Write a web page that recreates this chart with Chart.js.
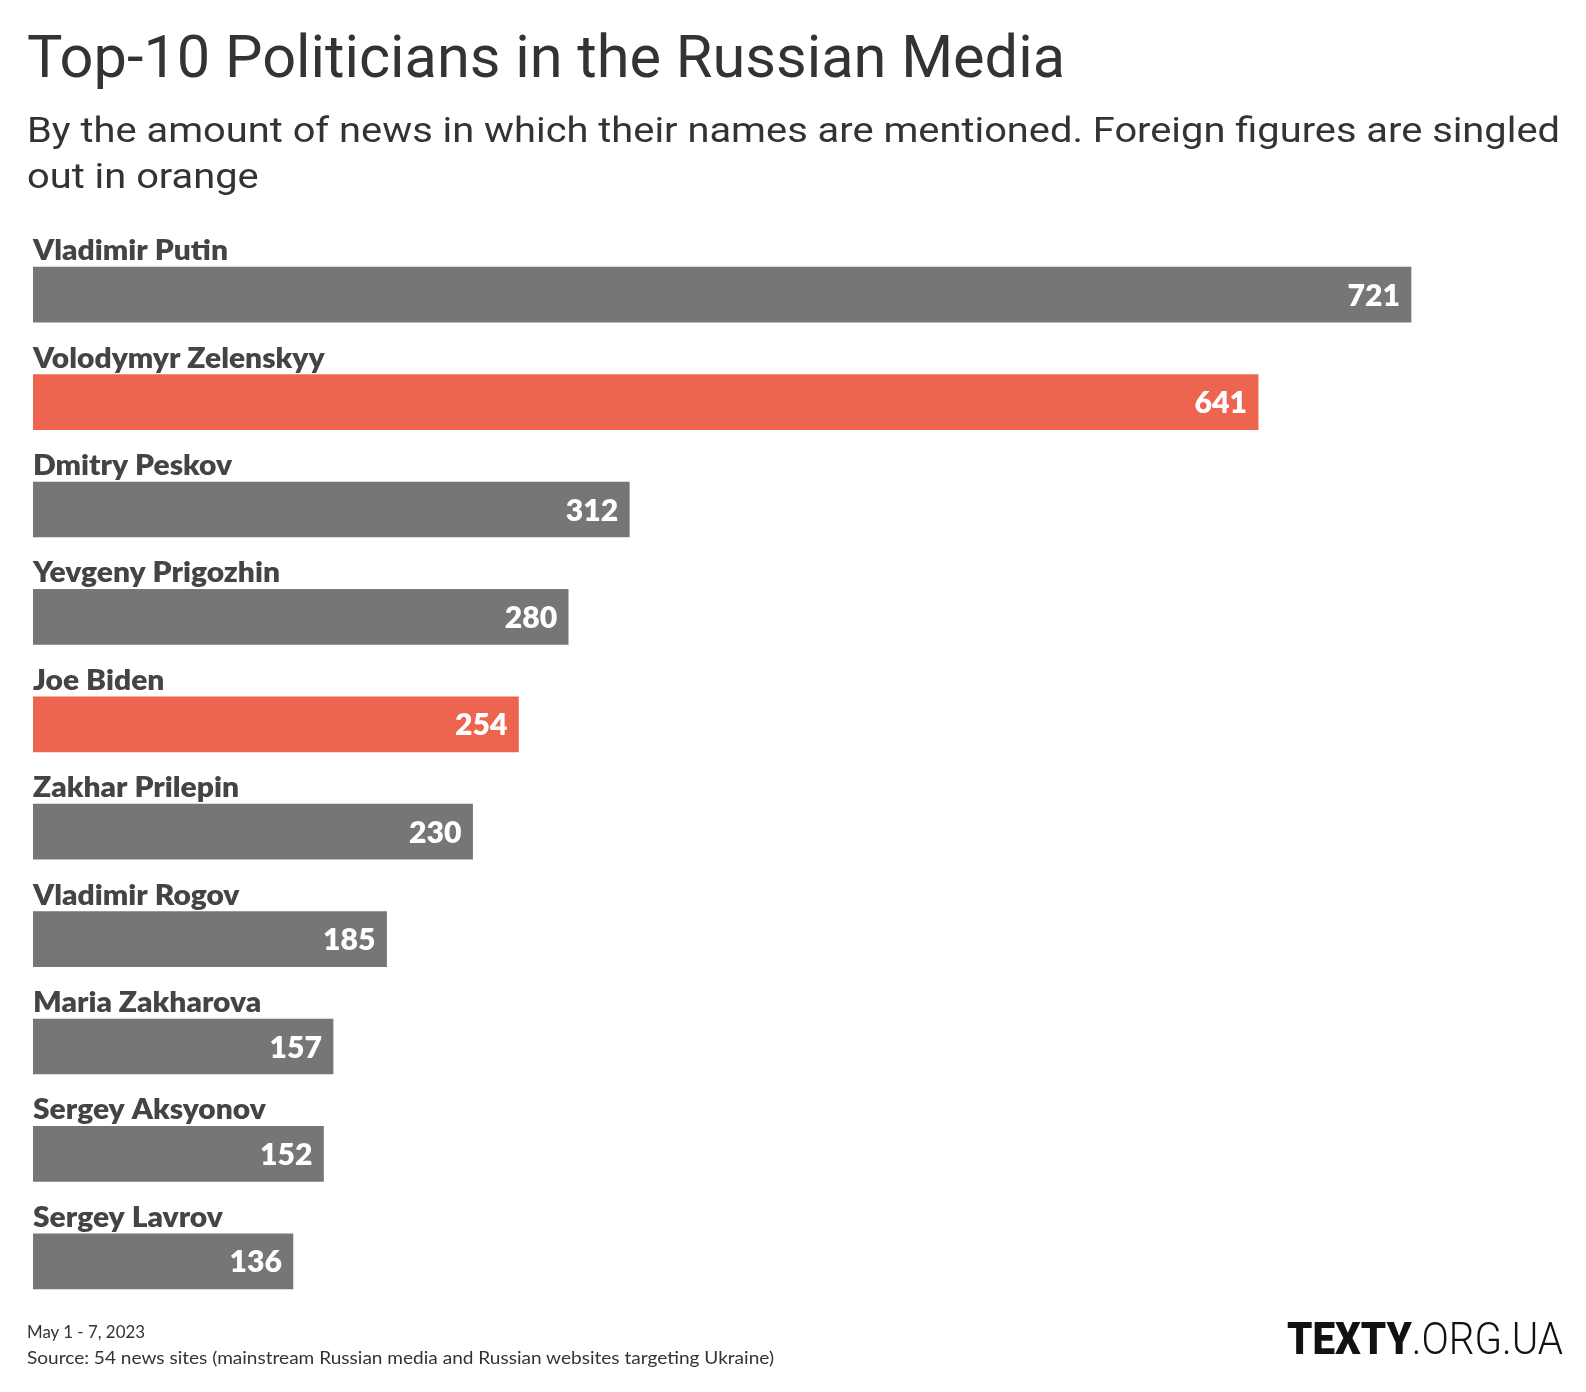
<!DOCTYPE html>
<html>
<head>
<meta charset="utf-8">
<title>Top-10 Politicians in the Russian Media</title>
<script src="https://cdn.jsdelivr.net/npm/chart.js@4.4.0/dist/chart.umd.min.js"></script>
<style>
  html, body { margin: 0; padding: 0; background: #fff; }
  body { width: 1586px; height: 1392px; position: relative; overflow: hidden; }
  #grafico { position: absolute; left: 0; top: 0; }
  .txt { position: absolute; white-space: nowrap; transform-origin: 0 0; color: #333; }
  #titulo { left: 27px; font: 400 58.6px Roboto, sans-serif; }
  #subtitulo { left: 27px; font: 400 35px Roboto, sans-serif; line-height: 46.5px; }
  #data, #fonte { left: 27px; font: 400 18px Lato, sans-serif; color: #333; }
  #logo { font: 44px Roboto, sans-serif; color: #111; }
  #logo b { font-weight: 900; }
  #logo span { font-weight: 300; }
</style>
</head>
<body>
<canvas id="grafico" width="1586" height="1392"></canvas>

<div class="txt" id="titulo">Top-10 Politicians in the Russian Media</div>
<div class="txt" id="subtitulo">By the amount of news in which their names are mentioned. Foreign figures are singled<br>out in orange</div>
<div class="txt" id="data">May 1 - 7, 2023</div>
<div class="txt" id="fonte">Source: 54 news sites (mainstream Russian media and Russian websites targeting Ukraine)</div>
<div class="txt" id="logo"><b>TEXTY</b><span>.ORG.UA</span></div>

<script>
// Dados do grafico
const nomes = [
    'Vladimir Putin',
    'Volodymyr Zelenskyy',
    'Dmitry Peskov',
    'Yevgeny Prigozhin',
    'Joe Biden',
    'Zakhar Prilepin',
    'Vladimir Rogov',
    'Maria Zakharova',
    'Sergey Aksyonov',
    'Sergey Lavrov'
];
const mencoes = [721, 641, 312, 280, 254, 230, 185, 157, 152, 136];
// true = figura estrangeira (em laranja)
const estrangeiro = [false, true, false, false, true, false, false, false, false, false];

const corCinza = '#767676';
const corLaranja = '#ee654f';

// Plugin para escrever o nome acima da barra e o valor dentro dela
const rotulosPlugin = {
    id: 'rotulos',
    afterDatasetsDraw(chart) {
        const ctx = chart.ctx;
        const meta = chart.getDatasetMeta(0);
        ctx.save();
        ctx.textBaseline = 'alphabetic';

        // largura de "Vladimir Putin" na referencia: ~195px
        ctx.font = '800 28px Lato';
        const escalaNome = 195 / ctx.measureText(nomes[0]).width;
        ctx.font = '800 30px Lato';
        const escalaValor = 52.5 / ctx.measureText('721').width;

        meta.data.forEach((barra, i) => {
            const topo = barra.y - barra.height / 2;

            ctx.save();
            ctx.fillStyle = '#444';
            ctx.font = '800 28px Lato';
            ctx.textAlign = 'left';
            ctx.translate(barra.base, topo - 7);
            ctx.scale(escalaNome, 1);
            ctx.fillText(nomes[i], 0, 0);
            ctx.restore();

            ctx.save();
            ctx.fillStyle = '#fff';
            ctx.font = '800 30px Lato';
            ctx.textAlign = 'right';
            ctx.translate(barra.x - 11, barra.y + 11);
            ctx.scale(escalaValor, 1);
            ctx.fillText(String(mencoes[i]), 0, 0);
            ctx.restore();
        });
        ctx.restore();
    }
};

function criaGrafico() {
    const cores = estrangeiro.map(e => e ? corLaranja : corCinza);

    return new Chart(document.getElementById('grafico'), {
        type: 'bar',
        data: {
            labels: nomes,
            datasets: [{
                data: mencoes,
                backgroundColor: cores,
                borderWidth: 0,
                barThickness: 55
            }]
        },
        options: {
            indexAxis: 'y',
            responsive: false,
            animation: false,
            layout: { padding: { left: 33, right: 24, top: 241, bottom: 77 } },
            scales: {
                x: { display: false, min: 0, max: 800 },
                y: { display: false }
            },
            plugins: {
                legend: { display: false },
                tooltip: { enabled: false }
            }
        },
        plugins: [rotulosPlugin]
    });
}

// Coloca a linha de base do texto na altura pedida
function posicionaBase(el, baseY) {
    const sonda = document.createElement('span');
    sonda.style.cssText = 'display:inline-block;width:0;height:0;vertical-align:baseline';
    el.insertBefore(sonda, el.firstChild);
    const b = sonda.getBoundingClientRect().top - el.getBoundingClientRect().top;
    sonda.remove();
    el.style.top = (baseY - b) + 'px';
}

// Ajusta a largura do texto para a largura da referencia
function ajustaLargura(el, largura) {
    const w = el.getBoundingClientRect().width;
    el.style.transform = 'scaleX(' + (largura / w) + ')';
}

document.fonts.ready.then(() => {
    const titulo = document.getElementById('titulo');
    posicionaBase(titulo, 76.7);
    ajustaLargura(titulo, 1038);

    const sub = document.getElementById('subtitulo');
    posicionaBase(sub, 141.7);
    ajustaLargura(sub, 1533);

    const data = document.getElementById('data');
    posicionaBase(data, 1338.3);
    ajustaLargura(data, 118);

    const fonte = document.getElementById('fonte');
    posicionaBase(fonte, 1364);
    ajustaLargura(fonte, 747);

    const logo = document.getElementById('logo');
    posicionaBase(logo, 1354.3);
    logo.style.left = (1563 - 276) + 'px';
    ajustaLargura(logo, 276);

    criaGrafico();
});
</script>
</body>
</html>
